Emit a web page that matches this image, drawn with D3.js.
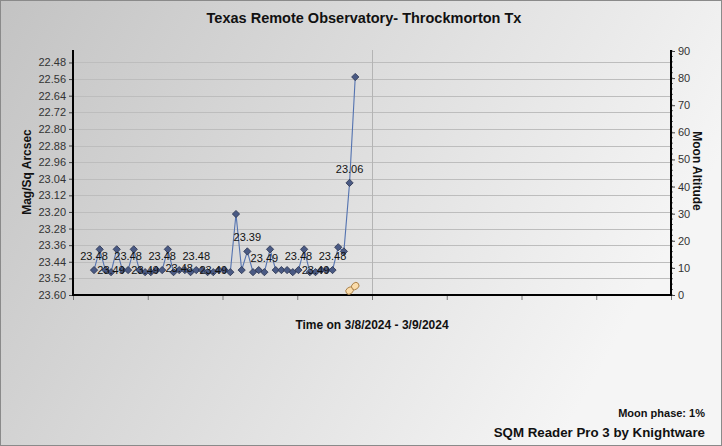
<!DOCTYPE html>
<html><head><meta charset="utf-8">
<script src="https://cdn.jsdelivr.net/npm/d3@7"></script>
<style>html,body{margin:0;padding:0;background:#fff;}svg{display:block;font-family:Arial,"Liberation Sans",sans-serif;}</style>
</head><body>
<svg id="c" width="722" height="446"></svg>
<script>
// ---- data ----
const sqmValues = [23.48,23.38,23.48,23.49,23.38,23.48,23.48,23.38,23.48,23.49,
                   23.49,23.48,23.48,23.38,23.49,23.48,23.48,23.49,23.48,23.48,
                   23.49,23.49,23.48,23.48,23.49,23.21,23.48,23.39,23.49,23.48,
                   23.49,23.38,23.48,23.48,23.48,23.49,23.48,23.38,23.49,23.49,
                   23.48,23.48,23.48,23.37,23.39,23.06,22.55];
const moonAltitude = [null,null,null,null,null,null,null,null,null,null,
                      null,null,null,null,null,null,null,null,null,null,
                      null,null,null,null,null,null,null,null,null,null,
                      null,null,null,null,null,null,null,null,null,null,
                      null,null,null,null,null,1.6,3.3];
const labelIndex = [0,3,6,9,12,15,18,21,27,30,36,39,42,45];
const labelPlace = ["above","mid","above","mid","above","mid","above","mid","above","above","above","mid","above","above"];
const leftTicks = [22.48,22.56,22.64,22.72,22.80,22.88,22.96,23.04,23.12,23.20,23.28,23.36,23.44,23.52,23.60];
const rightTicks = [0,10,20,30,40,50,60,70,80,90];
const hourTicks = [0,1,2,3,4,5,6,7,8];
const midnightTick = 4;
const titleText = "Texas Remote Observatory- Throckmorton Tx";
const xTitle = "Time on 3/8/2024 - 3/9/2024";
const yTitle = "Mag/Sq Arcsec";
const y2Title = "Moon Altitude";
const phaseText = "Moon phase: 1%";
const creditText = "SQM Reader Pro 3 by Knightware";

// ---- layout ----
const W = 722, H = 446;
const plot = {l: 73, r: 671, t: 50, b: 295};
const svg = d3.select("#c");

const defs = svg.append("defs");
const g = defs.append("linearGradient").attr("id","bg").attr("x1","0").attr("y1","0").attr("x2","1").attr("y2","0.35");
g.append("stop").attr("offset","0").attr("stop-color","#c3c3c3");
g.append("stop").attr("offset","1").attr("stop-color","#f5f5f5");
svg.append("rect").attr("x",0.5).attr("y",0.5).attr("width",W-1).attr("height",H-1)
   .attr("fill","url(#bg)").attr("stroke","#8a8a8a");

const x = d3.scaleLinear().domain([-3.7, 101.6]).range([plot.l, plot.r]);
const xh = d3.scaleLinear().domain([0, 8]).range([plot.l, plot.r]);
const yL = d3.scaleLinear().domain([23.60, 22.42]).range([plot.b, plot.t]);
const yR = d3.scaleLinear().domain([0, 90]).range([plot.b, plot.t + 1]);

// gridlines
svg.append("g").selectAll("line").data(leftTicks.slice(0,-1)).join("line")
  .attr("x1",plot.l).attr("x2",plot.r)
  .attr("y1",d=>Math.round(yL(d))+0.5).attr("y2",d=>Math.round(yL(d))+0.5)
  .attr("stroke","#bdbdbd").attr("stroke-width",1);
// midnight line
svg.append("line").attr("x1",Math.round(xh(midnightTick))+0.5).attr("x2",Math.round(xh(midnightTick))+0.5)
  .attr("y1",plot.t).attr("y2",plot.b).attr("stroke","#b4b4b4");

// left axis
const axL = d3.axisLeft(yL).tickValues(leftTicks).tickSize(4).tickFormat(d3.format(".2f"));
const gL = svg.append("g").attr("transform",`translate(${plot.l},0)`).call(axL);
gL.select(".domain").remove();
gL.selectAll(".tick line").attr("stroke","#444");
gL.selectAll(".tick text").attr("font-size",11).attr("fill","#333").attr("x",-7)
  .attr("font-family","Arial, 'Liberation Sans', sans-serif");
svg.append("line").attr("x1",plot.l).attr("x2",plot.l).attr("y1",plot.t).attr("y2",plot.b+1)
  .attr("stroke","#000").attr("stroke-width",2);

// right axis
const axR = d3.axisRight(yR).tickValues(rightTicks).tickSize(4);
const gR = svg.append("g").attr("transform",`translate(${plot.r},0)`).call(axR);
gR.select(".domain").remove();
gR.selectAll(".tick line").attr("stroke","#444");
gR.selectAll(".tick text").attr("font-size",11).attr("fill","#333").attr("x",7)
  .attr("font-family","Arial, 'Liberation Sans', sans-serif");
const minorR = d3.range(0, 91, 2);
svg.append("g").selectAll("line").data(minorR).join("line")
  .attr("x1",plot.r).attr("x2",plot.r+2).attr("y1",d=>yR(d)).attr("y2",d=>yR(d)).attr("stroke","#666");
svg.append("line").attr("x1",plot.r).attr("x2",plot.r).attr("y1",plot.t).attr("y2",plot.b+1)
  .attr("stroke","#000").attr("stroke-width",2);

// bottom axis
const axB = d3.axisBottom(xh).tickValues(hourTicks).tickSize(5).tickFormat("");
const gB = svg.append("g").attr("transform",`translate(0,${plot.b})`).call(axB);
gB.select(".domain").remove();
gB.selectAll(".tick line").attr("stroke","#777");
svg.append("line").attr("x1",plot.l-1).attr("x2",plot.r+1).attr("y1",plot.b).attr("y2",plot.b)
  .attr("stroke","#000").attr("stroke-width",2);

// series line
const pts = sqmValues.map((v,i)=>({i, v}));
svg.append("path").datum(pts)
  .attr("d", d3.line().x(d=>x(d.i)).y(d=>yL(d.v)))
  .attr("fill","none").attr("stroke","#5473b0").attr("stroke-width",1.1);
const sq = d3.symbol(d3.symbolSquare, 26);
svg.append("g").selectAll("path").data(pts).join("path")
  .attr("d", sq)
  .attr("transform", d=>`translate(${x(d.i)},${yL(d.v)}) rotate(45)`)
  .attr("fill","#4a5a84").attr("stroke","#2c3552").attr("stroke-width",0.8);

// moon altitude markers
const moonPts = moonAltitude.map((v,i)=>({i, v})).filter(d=>d.v !== null);
svg.append("g").selectAll("ellipse").data(moonPts).join("ellipse")
  .attr("cx", d=>x(d.i)).attr("cy", d=>yR(d.v)).attr("rx",4).attr("ry",3.3)
  .attr("transform", d=>`rotate(-40 ${x(d.i)} ${yR(d.v)})`)
  .attr("fill","#fbdcaa").attr("stroke","#a8804a").attr("stroke-width",0.9);

// point labels
svg.append("g").selectAll("text").data(labelIndex).join("text")
  .attr("x", i=>x(i))
  .attr("y", (i,k)=>yL(sqmValues[i]) + (labelPlace[k]==="above" ? -10 : 2))
  .attr("text-anchor","middle").attr("font-size",11).attr("fill","#111")
  .text(i=>sqmValues[i].toFixed(2));

// titles
svg.append("text").attr("x",364).attr("y",23).attr("text-anchor","middle")
  .attr("font-size",14.5).attr("font-weight","bold").attr("fill","#111").text(titleText);
svg.append("text").attr("x",372).attr("y",329).attr("text-anchor","middle")
  .attr("font-size",12).attr("font-weight","bold").attr("fill","#111").text(xTitle);
svg.append("text").attr("transform","translate(31,172) rotate(-90)").attr("text-anchor","middle")
  .attr("font-size",12).attr("font-weight","bold").attr("fill","#111").text(yTitle);
svg.append("text").attr("transform","translate(693,171) rotate(90)").attr("text-anchor","middle")
  .attr("font-size",12).attr("font-weight","bold").attr("fill","#111").text(y2Title);
svg.append("text").attr("x",705).attr("y",417).attr("text-anchor","end")
  .attr("font-size",11).attr("font-weight","bold").attr("fill","#111").text(phaseText);
svg.append("text").attr("x",705).attr("y",437).attr("text-anchor","end")
  .attr("font-size",13.3).attr("font-weight","bold").attr("fill","#111").text(creditText);
</script>
</body></html>
